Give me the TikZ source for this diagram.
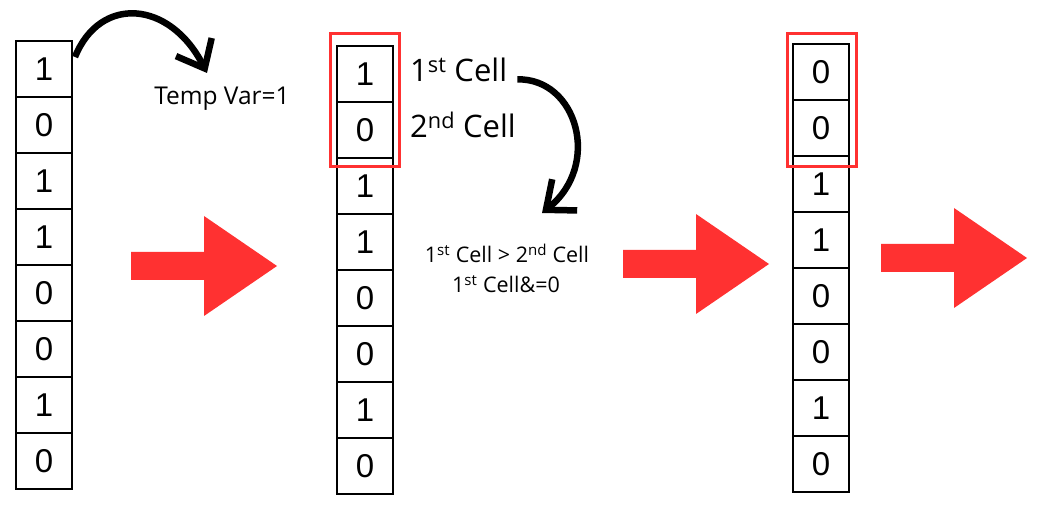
\documentclass[tikz,border=0pt]{standalone}
\usepackage{fontspec}
\setmainfont{Open Sans}
\newfontfamily\digitfont{Liberation Sans}
\usetikzlibrary{arrows.meta}
\definecolor{canvared}{RGB}{255,49,49}
\newcommand\cz{56}
\newcommand\N{7}
\newcommand\ha{73}
\newcommand\hb{50}
\newcommand\sh{14}

\tikzset{
  cell/.style={draw, line width=1.4pt, minimum width=\cz pt, minimum height=\cz pt,
    inner sep=0pt, outer sep=0pt, font=\digitfont\fontsize{33}{33}\selectfont},
  pick/.style={draw=canvared, line width=3pt},
  brush/.style={line width=6.5pt, -{Straight Barb[length=24pt,width=40pt]}},
  lbl/.style={inner sep=0pt, anchor=base},
}

\begin{document}
\begin{tikzpicture}[x=1pt,y=-1pt]
\useasboundingbox (0,0) rectangle (1050,521);
\foreach \d [count=\i from 0] in {1,0,1,1,0,0,1,0} {
	\node[cell] (a\i) at (44,{41+\cz/2+\cz*\i}) {\d};
	\node[cell] (b\i) at (365,{46+\cz/2+\cz*\i}) {\d};
}
\foreach \d [count=\i from 0] in {0,0,1,1,0,0,1,0} {
	\node[cell] (c\i) at (821,{44+\cz/2+\cz*\i}) {\d};
}
\draw[pick] (330,34) rectangle (399,167);
\draw[pick] (787,34) rectangle (856,167);
\foreach \tx/\ty in {277/266, 769/264, 1027/258} {
	\fill[canvared] (\tx-2*\ha,\ty-\sh) -- (\tx-\ha,\ty-\sh) -- (\tx-\ha,\ty-\hb) -- (\tx,\ty)
		-- (\tx-\ha,\ty+\hb) -- (\tx-\ha,\ty+\sh) -- (\tx-2*\ha,\ty+\sh) -- cycle;
}
\node[lbl, font=\fontsize{24.5}{24.5}\selectfont] (tmp) at (222,105) {Temp Var=1};
\node[lbl, anchor=base west, font=\fontsize{31}{31}\selectfont] (fst) at (410,82) {1\textsuperscript{st} Cell};
\node[lbl, anchor=base west, font=\fontsize{31}{31}\selectfont] (snd) at (410,138) {2\textsuperscript{nd} Cell};
\node[lbl, font=\fontsize{21.5}{21.5}\selectfont] (cmpa) at (507,263) {1\textsuperscript{st} Cell > 2\textsuperscript{nd} Cell};
\node[lbl, font=\fontsize{21.5}{21.5}\selectfont] (cmpb) at (506,293) {1\textsuperscript{st} Cell\&=0};
\coordinate (t1) at (207,73);
\coordinate (t2) at (542,213);
\draw[brush] ([shift={(3,-12)}]a0.east) .. controls (100,-5) and (170,0) .. (t1);
\draw[brush] ([shift={(10,9)}]fst.east) .. controls (577,78) and (602,165) .. (t2);
\end{tikzpicture}
\end{document}
